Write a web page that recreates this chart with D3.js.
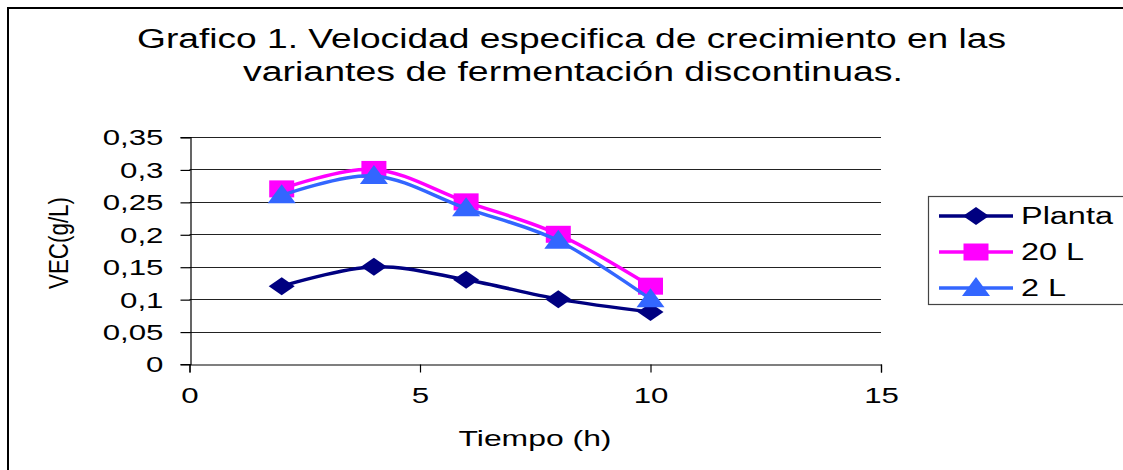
<!DOCTYPE html>
<html>
<head>
<meta charset="utf-8">
<script src="https://cdn.jsdelivr.net/npm/d3@7"></script>
<style>
  html, body { margin: 0; padding: 0; background: #fff; }
  svg { display: block; font-family: "Liberation Sans", Arial, sans-serif; }
</style>
</head>
<body>
<svg id="chart" width="1123" height="470"></svg>
<script>
// ---- data ----
const times = [2, 4, 6, 8, 10];
const seriesNames = ["Planta", "20 L", "2 L"];
const planta = [0.12, 0.15, 0.13, 0.10, 0.08];
const litros20 = [0.27, 0.30, 0.25, 0.20, 0.12];
const litros2 = [0.26, 0.29, 0.24, 0.19, 0.10];
const seriesColors = ["#000080", "#FF00FF", "#3366FF"];
const seriesMarkers = ["diamond", "square", "triangle"];
const xTicks = [0, 5, 10, 15];
const yTicks = [0, 0.05, 0.1, 0.15, 0.2, 0.25, 0.3, 0.35];
const titleLines = ["Grafico 1. Velocidad especifica de crecimiento en las",
                    "variantes de fermentación discontinuas."];
const xLabel = "Tiempo (h)";
const yLabel = "VEC(g/L)";

const series = [planta, litros20, litros2].map((vals, i) => ({
  name: seriesNames[i], color: seriesColors[i], marker: seriesMarkers[i],
  points: times.map((t, j) => ({x: t, y: vals[j]}))
}));

const svg = d3.select("#chart");
const STRETCH = 1.42;
function stretch(sel, k) {
  sel.each(function() {
    const w = this.getComputedTextLength();
    d3.select(this).attr("textLength", w * k).attr("lengthAdjust", "spacingAndGlyphs");
  });
}

// outer border
svg.append("rect").attr("x", 8).attr("y", 8).attr("width", 1130).attr("height", 470)
  .attr("fill", "none").attr("stroke", "#000").attr("stroke-width", 2);

// title
svg.append("text").attr("x", 571.5).attr("y", 48).attr("text-anchor", "middle")
  .attr("font-size", 27).text(titleLines[0])
  .attr("textLength", 869).attr("lengthAdjust", "spacingAndGlyphs");
svg.append("text").attr("x", 573).attr("y", 81).attr("text-anchor", "middle")
  .attr("font-size", 27).text(titleLines[1])
  .attr("textLength", 660).attr("lengthAdjust", "spacingAndGlyphs");

// scales
const x = d3.scaleLinear().domain([0, 15]).range([189.5, 881]);
const y = d3.scaleLinear().domain([0, 0.35]).range([364, 137]);

const fmt = d => d3.format(",")(d).replace(".", ",");

// gridlines
svg.append("g").selectAll("line").data(yTicks.filter(d => d > 0)).join("line")
  .attr("x1", x(0)).attr("x2", x(15))
  .attr("y1", d => Math.round(y(d)) + 0.5).attr("y2", d => Math.round(y(d)) + 0.5)
  .attr("stroke", "#222").attr("stroke-width", 1.2);

// y axis
const yAxis = svg.append("g").attr("transform", `translate(${Math.round(x(0)) + 0.5},0)`)
  .call(d3.axisLeft(y).tickValues(yTicks).tickSize(10).tickPadding(17)
    .tickFormat(d => d === 0 ? "0" : fmt(d)));
yAxis.select(".domain").attr("stroke", "#000").attr("stroke-width", 1.2);
yAxis.selectAll(".tick line").attr("stroke", "#000").attr("stroke-width", 1.2);
yAxis.selectAll(".tick line").attr("transform", "translate(0,0.5)");
yAxis.selectAll(".tick text").attr("font-size", 22).attr("fill", "#000")
  .attr("font-family", "Liberation Sans, Arial, sans-serif").attr("dy", "0.36em").call(stretch, STRETCH);

// x axis
const xAxis = svg.append("g").attr("transform", `translate(0,${Math.round(y(0)) + 0.5})`)
  .call(d3.axisBottom(x).tickValues(xTicks).tickSize(8).tickPadding(15).tickFormat(d3.format("d")));
xAxis.select(".domain").attr("stroke", "#000").attr("stroke-width", 1.2);
xAxis.selectAll(".tick line").attr("stroke", "#000").attr("stroke-width", 1.2);
xAxis.selectAll(".tick text").attr("font-size", 22).attr("fill", "#000")
  .attr("font-family", "Liberation Sans, Arial, sans-serif").call(stretch, STRETCH);

// axis labels
svg.append("text").attr("x", 535).attr("y", 446).attr("text-anchor", "middle")
  .attr("font-size", 22).text(xLabel)
  .attr("textLength", 153).attr("lengthAdjust", "spacingAndGlyphs");
svg.append("text").attr("transform", "translate(68,243) scale(1.35,1) rotate(-90)")
  .attr("text-anchor", "middle").attr("font-size", 21).text(yLabel)
  .attr("textLength", 92).attr("lengthAdjust", "spacingAndGlyphs");

// marker shapes
function markerPath(type) {
  if (type === "diamond") return "M-13,0L0,-9L13,0L0,9Z";
  if (type === "square") return "M-12.5,-8.5L12.5,-8.5L12.5,8.5L-12.5,8.5Z";
  return "M0,-11L14,8L-14,8Z";
}

const line = d3.line().x(d => x(d.x)).y(d => y(d.y)).curve(d3.curveCatmullRom.alpha(0));

const g = svg.append("g");
series.forEach(s => {
  g.append("path").attr("d", line(s.points)).attr("fill", "none")
    .attr("stroke", s.color).attr("stroke-width", 3.5).attr("stroke-linejoin", "round");
  g.selectAll(null).data(s.points).join("path")
    .attr("transform", d => `translate(${x(d.x)},${y(d.y) + (s.marker === "triangle" ? 0 : 0)})`)
    .attr("d", markerPath(s.marker)).attr("fill", s.color);
});

// legend
const lg = svg.append("g");
lg.append("rect").attr("x", 928.5).attr("y", 196.5).attr("width", 200).attr("height", 108)
  .attr("fill", "#fff").attr("stroke", "#444").attr("stroke-width", 1.2);
series.forEach((s, i) => {
  const cy = 216 + i * 36;
  lg.append("line").attr("x1", 939).attr("x2", 1013).attr("y1", cy).attr("y2", cy)
    .attr("stroke", s.color).attr("stroke-width", 3.5);
  lg.append("path").attr("transform", `translate(976,${cy})`).attr("d", markerPath(s.marker))
    .attr("fill", s.color);
  lg.append("text").attr("x", 1021).attr("y", cy + 8).attr("font-size", 23).text(s.name)
    .call(stretch, 1.41);
});
</script>
</body>
</html>
